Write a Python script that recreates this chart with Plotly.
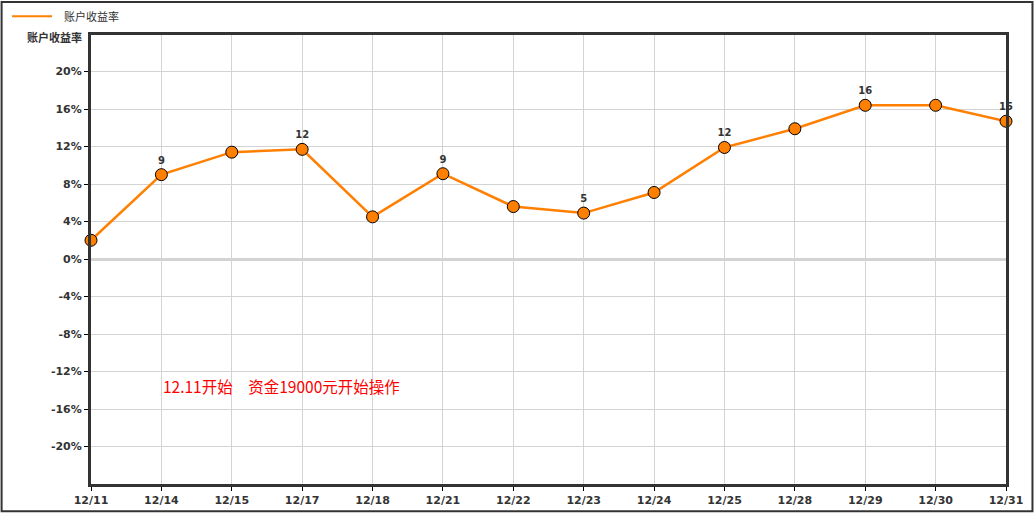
import plotly.graph_objects as go

# Daily account return (%)
dates = ["12/11", "12/14", "12/15", "12/17", "12/18", "12/21", "12/22",
         "12/23", "12/24", "12/25", "12/28", "12/29", "12/30", "12/31"]
returns = [2.0, 9.0, 11.4, 11.7, 4.5, 9.1, 5.6, 4.9, 7.1, 11.9, 13.9, 16.4, 16.4, 14.7]
tick_vals = [-20, -16, -12, -8, -4, 0, 4, 8, 12, 16, 20]
tick_text = [f"{v}%" for v in tick_vals]
series_name = "账户收益率"
note_text = "12.11开始　资金19000元开始操作"

# every other point carries a rounded value label
labels = [f"{round(v):d}" if i % 2 == 1 else "" for i, v in enumerate(returns)]

W, H = 1035, 519
L, R, T, B = 91, 28, 35, 29
pw, ph = W - L - R, H - T - B


def px_x(x):
    return (x - L) / pw


def px_y(y):
    return (H - B - y) / ph


ORANGE = "#FF7F00"
DARK = "#333333"
GRID = "#d3d3d3"
TICKFONT = dict(family="DejaVu Sans", size=11, color=DARK, weight="bold")

fig = go.Figure()
fig.add_trace(go.Scatter(
    x=list(range(len(dates))), y=returns,
    mode="lines+markers+text",
    line=dict(color=ORANGE, width=2.5),
    marker=dict(size=12, color=ORANGE, line=dict(color="#000000", width=1)),
    text=labels, textposition="top center",
    textfont=dict(family="DejaVu Sans", size=10, color=DARK, weight="bold"),
    cliponaxis=False, showlegend=False, hoverinfo="skip",
))

fig.update_layout(
    width=W, height=H,
    margin=dict(l=L, r=R, t=T, b=B),
    paper_bgcolor="white", plot_bgcolor="white",
    showlegend=False,
    xaxis=dict(
        range=[0, len(dates) - 1],
        tickmode="array", tickvals=list(range(len(dates))), ticktext=dates,
        showgrid=True, gridcolor=GRID, gridwidth=1,
        showline=True, linecolor=DARK, linewidth=3, mirror=True,
        ticks="outside", ticklen=4, tickcolor="#000000", tickwidth=1,
        tickfont=TICKFONT,
        zeroline=False, fixedrange=True,
    ),
    yaxis=dict(
        range=[-24, 23.9],
        tickmode="array", tickvals=tick_vals, ticktext=tick_text,
        showgrid=True, gridcolor=GRID, gridwidth=1,
        zeroline=True, zerolinecolor=GRID, zerolinewidth=3,
        showline=True, linecolor=DARK, linewidth=3, mirror=True,
        ticks="outside", ticklen=4, tickcolor="#000000", tickwidth=1,
        tickfont=TICKFONT,
        fixedrange=True,
    ),
    shapes=[
        # outer frame
        dict(type="rect", xref="paper", yref="paper",
             x0=px_x(1.5), x1=px_x(1033.5), y0=px_y(517.5), y1=px_y(1.5),
             line=dict(color=DARK, width=2), layer="below"),
        # legend swatch
        dict(type="line", xref="paper", yref="paper",
             x0=px_x(12), x1=px_x(52), y0=px_y(16), y1=px_y(16),
             line=dict(color=ORANGE, width=2)),
    ],
    annotations=[
        dict(xref="paper", yref="paper", x=px_x(62), y=px_y(16),
             xanchor="left", yanchor="middle", showarrow=False,
             text=series_name,
             font=dict(family="Noto Sans CJK SC", size=11, color=DARK)),
        dict(xref="paper", yref="paper", x=px_x(84), y=px_y(37),
             xanchor="right", yanchor="middle", showarrow=False,
             text=series_name,
             font=dict(family="Noto Sans CJK SC", size=11, color=DARK, weight="bold")),
        dict(xref="paper", yref="paper", x=px_x(161), y=px_y(391),
             xanchor="left", yanchor="middle", showarrow=False,
             text=note_text,
             font=dict(family="Noto Sans CJK SC", size=15.5, color="#FF0000")),
    ],
)

fig.write_html("out.html")
